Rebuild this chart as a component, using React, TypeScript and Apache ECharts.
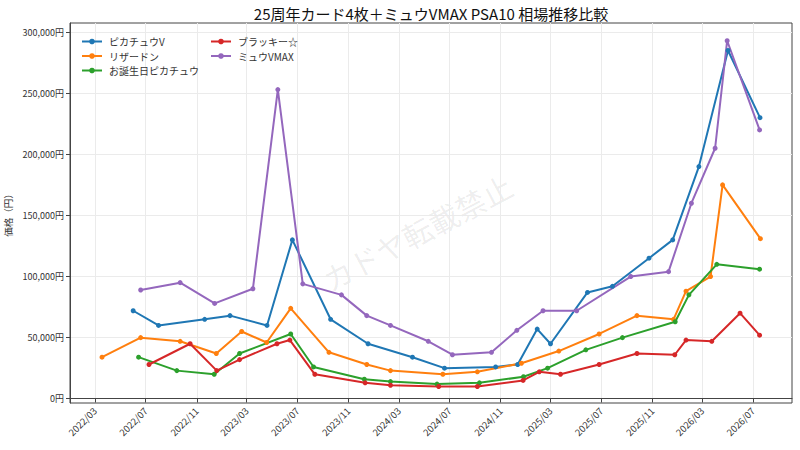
import { useEffect, useRef } from "react";
import * as echarts from "echarts";

const FONT = "'Noto Sans CJK JP', 'Noto Sans', sans-serif";

// series data (date, price in yen)
const pikachuVDates = ["2022-06-01", "2022-08-01", "2022-11-20", "2023-01-20", "2023-04-19", "2023-06-19", "2023-09-19", "2023-12-18", "2024-04-03", "2024-06-19", "2024-10-20", "2024-12-12", "2025-01-28", "2025-03-01", "2025-05-29", "2025-07-28", "2025-10-24", "2025-12-20", "2026-02-21", "2026-05-02", "2026-07-18"];
const pikachuVValues = [72000, 60000, 65000, 68000, 60000, 130000, 65000, 45000, 34000, 25000, 26000, 28000, 57000, 45000, 87000, 92000, 115000, 130000, 190000, 285000, 230000];

const charizardDates = ["2022-03-18", "2022-06-19", "2022-09-22", "2022-12-18", "2023-02-17", "2023-04-18", "2023-06-15", "2023-09-15", "2023-12-15", "2024-02-10", "2024-06-15", "2024-09-06", "2024-12-21", "2025-03-21", "2025-06-26", "2025-09-25", "2025-12-22", "2026-01-21", "2026-03-21", "2026-04-19", "2026-07-19"];
const charizardValues = [34000, 50000, 47000, 37000, 55000, 46000, 74000, 38000, 28000, 23000, 20000, 22000, 29000, 39000, 53000, 68000, 65000, 88000, 100000, 175000, 131000];

const birthdayDates = ["2022-06-14", "2022-09-14", "2022-12-13", "2023-02-12", "2023-06-15", "2023-08-09", "2023-12-09", "2024-02-10", "2024-06-01", "2024-09-11", "2024-12-26", "2025-02-22", "2025-05-25", "2025-08-21", "2025-12-26", "2026-01-28", "2026-04-05", "2026-07-17"];
const birthdayValues = [34000, 23000, 20000, 37000, 53000, 26000, 16000, 14000, 12000, 13000, 18000, 25000, 40000, 50000, 63000, 85000, 110000, 106000];

const umbreonDates = ["2022-07-09", "2022-10-16", "2022-12-19", "2023-02-12", "2023-05-13", "2023-06-13", "2023-08-12", "2023-12-11", "2024-02-10", "2024-06-05", "2024-09-06", "2024-12-25", "2025-02-02", "2025-03-25", "2025-06-26", "2025-09-25", "2025-12-25", "2026-01-21", "2026-03-24", "2026-05-31", "2026-07-17"];
const umbreonValues = [28000, 45000, 23000, 32000, 45000, 48000, 20000, 13000, 11000, 10000, 10000, 15000, 22000, 20000, 28000, 37000, 36000, 48000, 47000, 70000, 52000];

const mewDates = ["2022-06-19", "2022-09-22", "2022-12-14", "2023-03-16", "2023-05-15", "2023-07-14", "2023-10-15", "2023-12-15", "2024-02-10", "2024-05-11", "2024-07-08", "2024-10-10", "2024-12-10", "2025-02-11", "2025-05-03", "2025-09-10", "2025-12-10", "2026-02-03", "2026-04-01", "2026-04-30", "2026-07-17"];
const mewValues = [89000, 95000, 78000, 90000, 253000, 94000, 85000, 68000, 60000, 47000, 36000, 38000, 56000, 72000, 72000, 100000, 104000, 160000, 205000, 293000, 220000];

const seriesNames = ["ピカチュウV", "リザードン", "お誕生日ピカチュウ", "ブラッキー☆", "ミュウVMAX"];
const seriesColors = ["#1f77b4", "#ff7f0e", "#2ca02c", "#d62728", "#9467bd"];

const xTickDates = ["2022-03-01", "2022-07-01", "2022-11-01", "2023-03-01", "2023-07-01", "2023-11-01", "2024-03-01", "2024-07-01", "2024-11-01", "2025-03-01", "2025-07-01", "2025-11-01", "2026-03-01", "2026-07-01"];
const yTicks = [0, 50000, 100000, 150000, 200000, 250000, 300000];

const toTs = (s: string) => {
  const [y, m, d] = s.split("-").map(Number);
  return new Date(y, m - 1, d).getTime();
};

const pair = (dates: string[], values: number[]) =>
  dates.map((d, i) => [toTs(d), values[i]]);

const yen = (v: number) =>
  String(Math.round(v)).replace(/\B(?=(\d{3})+(?!\d))/g, ",") + "円";

export default function App() {
  const divRef = useRef<HTMLDivElement>(null);

  useEffect(() => {
    document.body.style.margin = "0";
    if (!divRef.current) return;
    const chart = echarts.init(divRef.current, null, { renderer: "svg" });

    const allSeries = [
      pair(pikachuVDates, pikachuVValues),
      pair(charizardDates, charizardValues),
      pair(birthdayDates, birthdayValues),
      pair(umbreonDates, umbreonValues),
      pair(mewDates, mewValues),
    ];
    const xTicks = xTickDates.map(toTs);

    const legendBase = {
      orient: "vertical",
      itemWidth: 20,
      itemHeight: 7,
      itemGap: 2.5,
      textStyle: {
        fontFamily: FONT,
        fontSize: 10,
        lineHeight: 12,
        color: "#333",
        padding: [0, 0, 0, 2],
      },
    };

    chart.setOption({
      animation: false,
      textStyle: { fontFamily: FONT },
      legend: [
        { ...legendBase, left: 76, top: 30.5, data: seriesNames.slice(0, 3) },
        { ...legendBase, left: 205, top: 30.5, data: seriesNames.slice(3) },
      ],
      grid: {
        left: 70,
        right: 8,
        top: 23,
        bottom: 47,
        containLabel: false,
        outerBoundsMode: "none",
        show: true,
        borderColor: "#444",
        borderWidth: 1,
      },
      xAxis: {
        type: "value",
        min: toTs("2021-12-31"),
        max: toTs("2026-10-03"),
        axisLine: { lineStyle: { color: "#444" } },
        axisTick: {
          customValues: xTicks,
          length: 4,
          lineStyle: { color: "#444" },
        },
        axisLabel: {
          customValues: xTicks,
          rotate: 45,
          fontSize: 9.5,
          color: "#333",
          margin: 6,
          formatter: (v: number) => {
            const d = new Date(v);
            return d.getFullYear() + "/" + String(d.getMonth() + 1).padStart(2, "0");
          },
        },
        splitLine: { show: true, lineStyle: { color: "#ebebeb", width: 1 } },
      },
      yAxis: {
        type: "value",
        min: -3500,
        max: 307500,
        name: "価格（円）",
        nameLocation: "middle",
        nameGap: 57,
        nameMoveOverlap: false,
        nameTextStyle: { fontFamily: FONT, fontSize: 9.5, color: "#333" },
        axisLine: { show: true, lineStyle: { color: "#444" } },
        axisTick: {
          show: true,
          customValues: yTicks,
          length: 4,
          lineStyle: { color: "#444" },
        },
        axisLabel: {
          customValues: yTicks,
          fontSize: 9,
          color: "#333",
          margin: 6,
          formatter: (v: number) => yen(v),
        },
        splitLine: { show: true, lineStyle: { color: "#ebebeb", width: 1 } },
      },
      graphic: [
        {
          type: "text",
          x: 431,
          y: 13,
          silent: true,
          style: {
            text: "25周年カード4枚＋ミュウVMAX PSA10 相場推移比較",
            fontFamily: FONT,
            fontSize: 15,
            fill: "#111",
            align: "center",
            verticalAlign: "middle",
          },
        },
        {
          type: "text",
          x: 417,
          y: 232,
          rotation: (28 * Math.PI) / 180,
          z: 0,
          silent: true,
          style: {
            text: "カドヤ転載禁止",
            fontFamily: FONT,
            fontSize: 30,
            fill: "rgba(0,0,0,0.08)",
            align: "center",
            verticalAlign: "middle",
          },
        },
      ],
      series: seriesNames.map((name, i) => ({
        name,
        type: "line",
        data: allSeries[i],
        symbol: "circle",
        symbolSize: 5,
        showSymbol: true,
        color: seriesColors[i],
        lineStyle: { width: 2, color: seriesColors[i] },
        itemStyle: { color: seriesColors[i] },
        z: 3,
      })),
    });

    return () => {
      chart.dispose();
    };
  }, []);

  return <div ref={divRef} style={{ width: 800, height: 450 }} />;
}
